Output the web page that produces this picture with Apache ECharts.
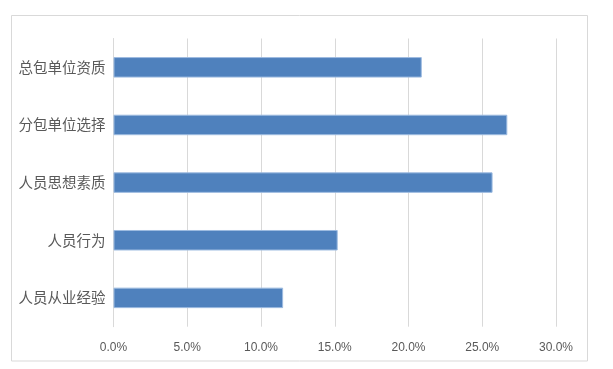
<!DOCTYPE html>
<html>
<head>
<meta charset="utf-8">
<script src="https://cdn.jsdelivr.net/npm/echarts@6/dist/echarts.min.js"></script>
<style>html,body{margin:0;padding:0;background:#fff}#c{width:613px;height:369px}</style>
</head>
<body>
<div id="c"></div>
<script>
var categories = ['总包单位资质', '分包单位选择', '人员思想素质', '人员行为', '人员从业经验'];
var values = [20.9, 26.7, 25.7, 15.2, 11.5];
var xTicks = [0, 5, 10, 15, 20, 25, 30];

var chart = echarts.init(document.getElementById('c'), null, {renderer: 'canvas'});
chart.setOption({
  animation: false,
  backgroundColor: '#fff',
  graphic: [{
    type: 'rect',
    shape: {x: 11.5, y: 15.5, width: 576, height: 345.5},
    style: {fill: 'none', stroke: '#D9D9D9', lineWidth: 1},
    silent: true
  }],
  grid: {left: 113.5, right: 57, top: 38.5, bottom: 42.3, containLabel: false},
  xAxis: {
    type: 'value',
    min: xTicks[0],
    max: xTicks[xTicks.length - 1],
    interval: 5,
    axisLine: {show: false},
    axisTick: {show: false},
    splitLine: {show: true, lineStyle: {color: '#D9D9D9', width: 1}},
    axisLabel: {
      color: '#595959', fontSize: 12, margin: 15,
      fontFamily: 'Liberation Sans, sans-serif',
      formatter: function (v) { return v.toFixed(1) + '%'; }
    }
  },
  yAxis: {
    type: 'category',
    data: categories,
    inverse: true,
    axisLine: {show: true, lineStyle: {color: '#D9D9D9', width: 1}},
    axisTick: {show: false},
    splitLine: {show: false},
    axisLabel: {color: '#595959', fontSize: 14.5, margin: 8, fontFamily: 'Noto Sans CJK SC, sans-serif'}
  },
  series: [{
    type: 'bar',
    data: values,
    barWidth: 20.5,
    itemStyle: {color: '#4F81BD', borderColor: '#9DBBE0', borderWidth: 1}
  }]
});
</script>
</body>
</html>
